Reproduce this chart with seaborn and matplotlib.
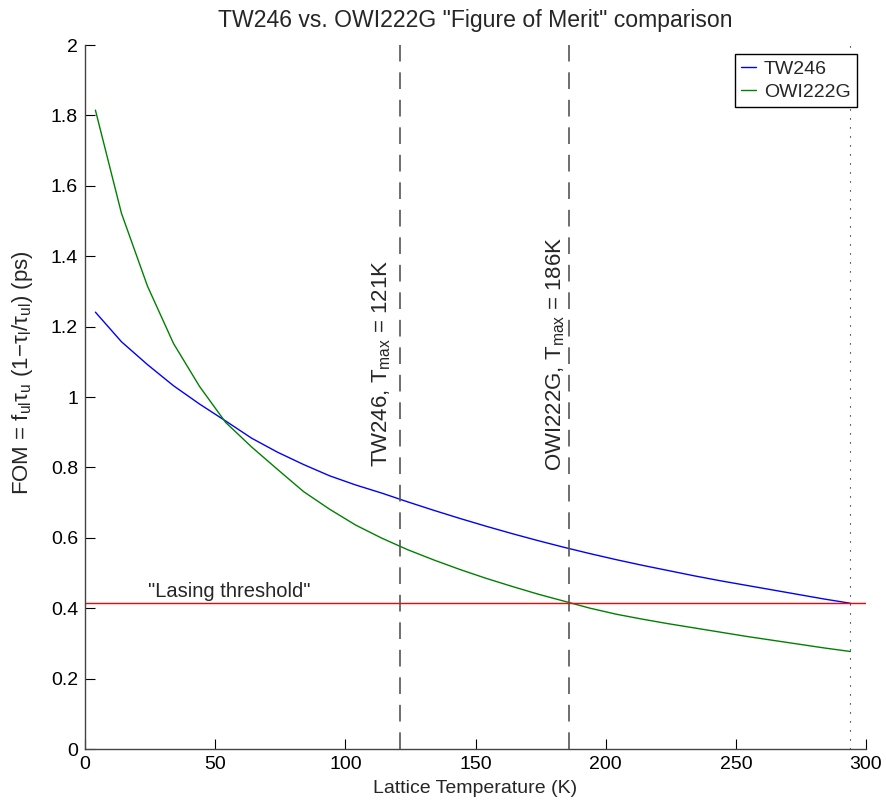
import numpy as np
import pandas as pd
import matplotlib
matplotlib.use("Agg")
import matplotlib.pyplot as plt
import seaborn as sns

# ---- data ----
temperature = [4, 14, 24, 34, 44, 54, 64, 74, 84, 94, 104, 114, 124, 134, 144,
               154, 164, 174, 184, 194, 204, 214, 224, 234, 244, 254, 264, 274, 284, 294]
fom_tw246 = [1.241, 1.157, 1.092, 1.032, 0.980, 0.932, 0.883, 0.843, 0.808, 0.776,
             0.750, 0.727, 0.702, 0.678, 0.655, 0.633, 0.612, 0.592, 0.573, 0.555,
             0.538, 0.522, 0.507, 0.492, 0.478, 0.465, 0.452, 0.439, 0.426, 0.414]
fom_owi222g = [1.815, 1.522, 1.315, 1.152, 1.030, 0.928, 0.858, 0.794, 0.731, 0.681,
               0.636, 0.599, 0.566, 0.537, 0.510, 0.485, 0.462, 0.440, 0.420, 0.400,
               0.383, 0.369, 0.356, 0.344, 0.332, 0.320, 0.309, 0.298, 0.287, 0.277]
series_names = ["TW246", "OWI222G"]
series_colors = ["#0000ff", "#008000"]
threshold = 0.415
tmax_values = [121, 186]
tmax_labels = [r"TW246, T$_{\mathrm{max}}$ = 121K", r"OWI222G, T$_{\mathrm{max}}$ = 186K"]
t_end = 294
x_ticks = [0, 50, 100, 150, 200, 250, 300]
y_ticks = [0, 0.2, 0.4, 0.6, 0.8, 1.0, 1.2, 1.4, 1.6, 1.8, 2.0]
y_tick_labels = ["0", "0.2", "0.4", "0.6", "0.8", "1", "1.2", "1.4", "1.6", "1.8", "2"]

sns.set_style("ticks")
plt.rcParams["font.family"] = ["Liberation Sans", "DejaVu Sans"]
plt.rcParams["mathtext.fontset"] = "custom"
plt.rcParams["mathtext.rm"] = "Liberation Sans"
plt.rcParams["mathtext.it"] = "Liberation Sans:italic"
plt.rcParams["mathtext.default"] = "regular"

df = pd.DataFrame({
    "T": temperature * 2,
    "FOM": fom_tw246 + fom_owi222g,
    "sample": [series_names[0]] * len(temperature) + [series_names[1]] * len(temperature),
})

fig = plt.figure(figsize=(8.86, 8.05), dpi=100)
ax = fig.add_axes([85 / 886, 1 - 749 / 805, (866 - 85) / 886, (749 - 45) / 805])

sns.lineplot(data=df, x="T", y="FOM", hue="sample", hue_order=series_names,
             palette=series_colors, linewidth=1.0, ax=ax, legend=False)

ax.axhline(threshold, color="#ff0000", linewidth=1.0)
for tm in tmax_values:
    ax.axvline(tm, color="#555555", linestyle=(0, (10, 6.5)), linewidth=1.2)
ax.axvline(t_end, color="black", linestyle=(0, (1, 7.1)), linewidth=0.8)

ax.text(113.8, 0.80, tmax_labels[0], rotation=90, ha="center", va="bottom", fontsize=16)
ax.text(180.8, 0.79, tmax_labels[1], rotation=90, ha="center", va="bottom", fontsize=16)
ax.text(24.2, 0.432, '"Lasing threshold"', ha="left", va="baseline", fontsize=14.5)

ax.set_xlim(0, 300)
ax.set_ylim(0, 2)
ax.set_xticks(x_ticks)
ax.set_yticks(y_ticks)
ax.set_yticklabels(y_tick_labels)
ax.tick_params(direction="in", length=7, width=0.8, labelsize=14, colors="black", pad=5)
for side in ["top", "right"]:
    ax.spines[side].set_visible(False)
for side in ["left", "bottom"]:
    ax.spines[side].set_color("#444444")
    ax.spines[side].set_linewidth(1.0)

ax.set_xlabel("Lattice Temperature (K)", fontsize=14, labelpad=5)
ax.set_ylabel(r"FOM = f$_{\mathrm{ul}}$τ$_{\mathrm{u}}$ (1−τ$_{\mathrm{l}}$/τ$_{\mathrm{ul}}$) (ps)",
              fontsize=16)
ax.yaxis.set_label_coords(-0.064, 0.534)
ax.set_title('TW246 vs. OWI222G "Figure of Merit" comparison', fontsize=16.6, pad=13)

handles = [plt.Line2D([], [], color=c, linewidth=1.0) for c in series_colors]
leg = ax.legend(handles, series_names, loc="upper right", bbox_to_anchor=(0.988, 0.987),
                borderaxespad=0, fancybox=False, edgecolor="black", framealpha=1,
                fontsize=14, handlelength=0.8, handletextpad=0.4, borderpad=0.3,
                labelspacing=0.3)
leg.get_frame().set_linewidth(1.0)

fig.savefig("out.png", dpi=100)
